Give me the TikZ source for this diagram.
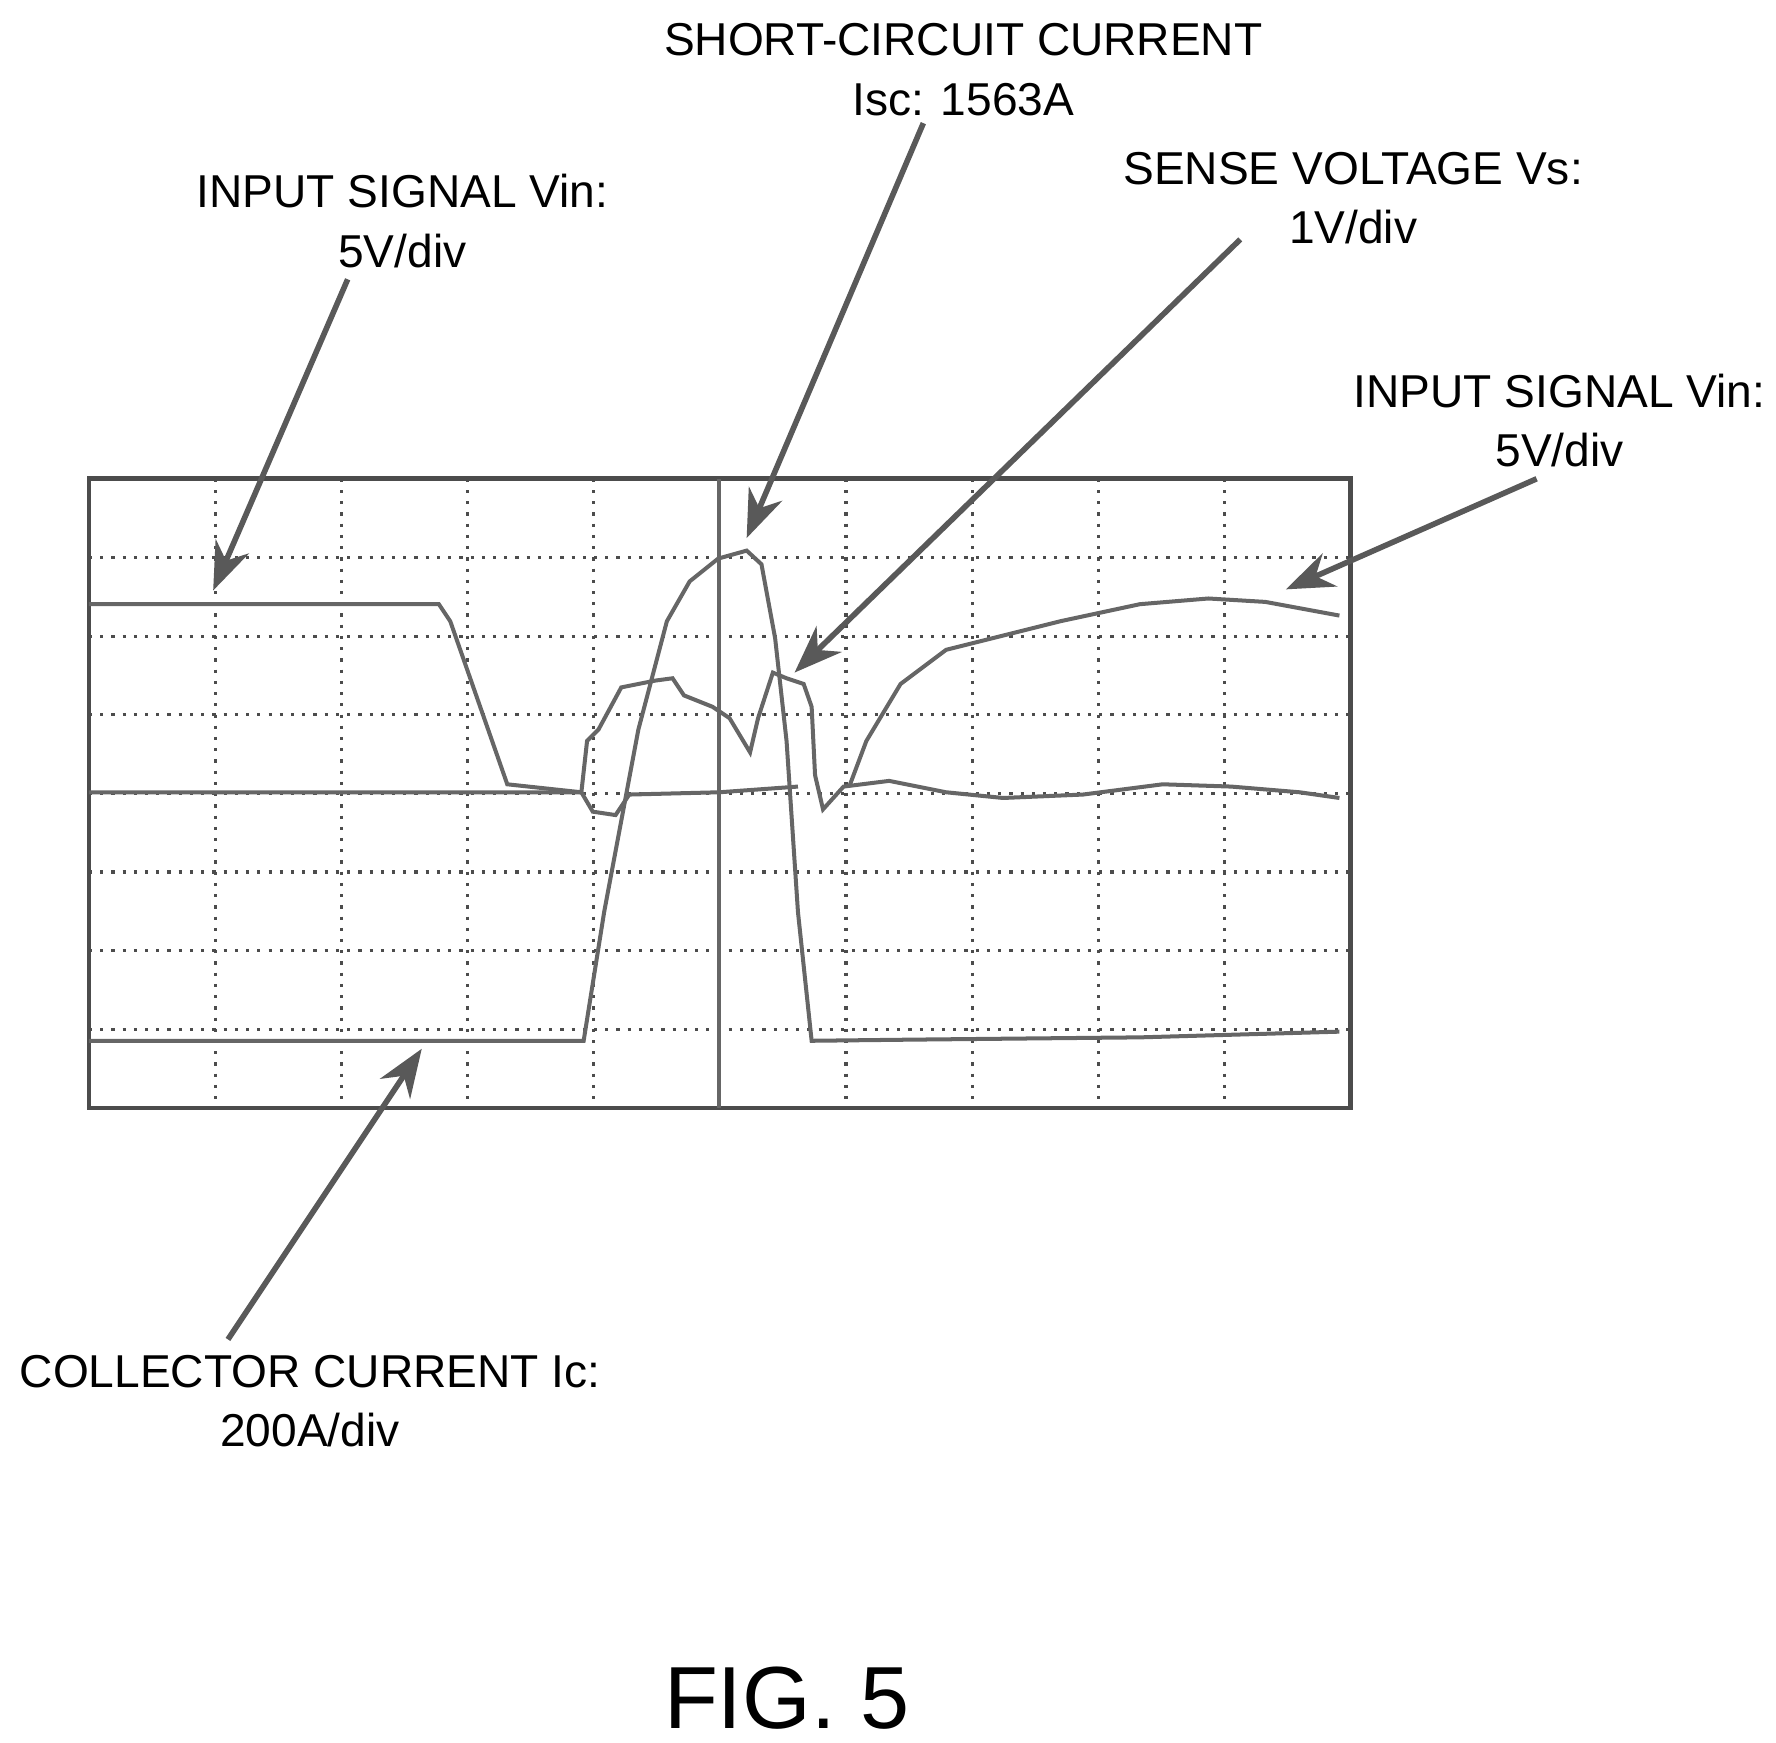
\documentclass[tikz,border=0pt]{standalone}
\usepackage{fontspec}
\setmainfont{Liberation Sans}
\usetikzlibrary{arrows.meta}
\begin{document}
\begin{tikzpicture}[x=0.01cm,y=-0.01cm,
lbl/.style={align=center,font=\fontsize{11.5}{14.8}\selectfont},
trace/.style={draw=black!60,line width=1pt},
pointer/.style={draw=black!65,line width=1.4pt,-{Stealth[length=12pt,width=9pt]}},
grid line/.style={black!70,dotted,line width=0.8pt}]
\useasboundingbox (0,0) rectangle (1558,1529);
% screen
\foreach \gx in {1,...,9} \draw[grid line] ({78+\gx*110.7},420) -- ({78+\gx*110.7},972);
\foreach \gy in {1,...,7} \draw[grid line] (78,{420+\gy*69}) -- (1185,{420+\gy*69});
\draw[black!70,line width=1.2pt] (78,420) rectangle (1185,972);
\draw[black!60,line width=1pt] (631,420) -- (631,972);
% traces
\draw[trace] (78,530) -- (385,530) -- (395,545) -- (445,688) -- (510,695);
\draw[trace] (78,913) -- (512,913) -- (530,800) -- (560,640) -- (585,545) -- (605,510)
  -- (630,490) -- (655,483) -- (668,495) -- (680,560) -- (690,650) -- (700,800) -- (712,913)
  -- (800,912) -- (1000,910) -- (1175,905);
\draw[trace] (78,695) -- (510,695) -- (515,650) -- (525,640) -- (545,603) -- (575,597)
  -- (590,595) -- (600,610) -- (625,620) -- (640,630) -- (658,660) -- (665,630) -- (678,590)
  -- (690,595) -- (705,600) -- (712,620) -- (715,680) -- (722,710) -- (740,690)
  -- (780,685) -- (830,695) -- (880,700) -- (950,697) -- (1020,688) -- (1080,690)
  -- (1140,695) -- (1175,700);
\draw[trace] (510,695) -- (520,712) -- (540,715) -- (552,697) -- (631,695) -- (700,690);
\draw[trace] (745,690) -- (760,650) -- (790,600) -- (830,570) -- (870,560) -- (930,545)
  -- (1000,530) -- (1060,525) -- (1110,528) -- (1175,540);
% labels
\node[lbl] (vinl) at (353,194) {INPUT SIGNAL Vin:\\5V/div};
\node[lbl] (isc) at (845,61) {SHORT-CIRCUIT CURRENT\\Isc: 1563A};
\node[lbl] (vs) at (1187,174) {SENSE VOLTAGE Vs:\\1V/div};
\node[lbl] (vinr) at (1368,369) {INPUT SIGNAL Vin:\\5V/div};
\node[lbl] (ic) at (272,1229) {COLLECTOR CURRENT Ic:\\200A/div};
\node[font=\fontsize{22}{26}\selectfont] (fig) at (690,1490) {FIG. 5};
% pointers
\coordinate (pvinl) at (187,518);
\coordinate (pisc) at (655,472);
\coordinate (pvs) at (697,590);
\coordinate (pvinr) at (1128,517);
\coordinate (pic) at (370,920);
\draw[pointer] (305,245) -- (pvinl);
\draw[pointer] (810,108) -- (pisc);
\draw[pointer] (1088,210) -- (pvs);
\draw[pointer] (1348,420) -- (pvinr);
\draw[pointer] (200,1175) -- (pic);
\end{tikzpicture}
\end{document}
